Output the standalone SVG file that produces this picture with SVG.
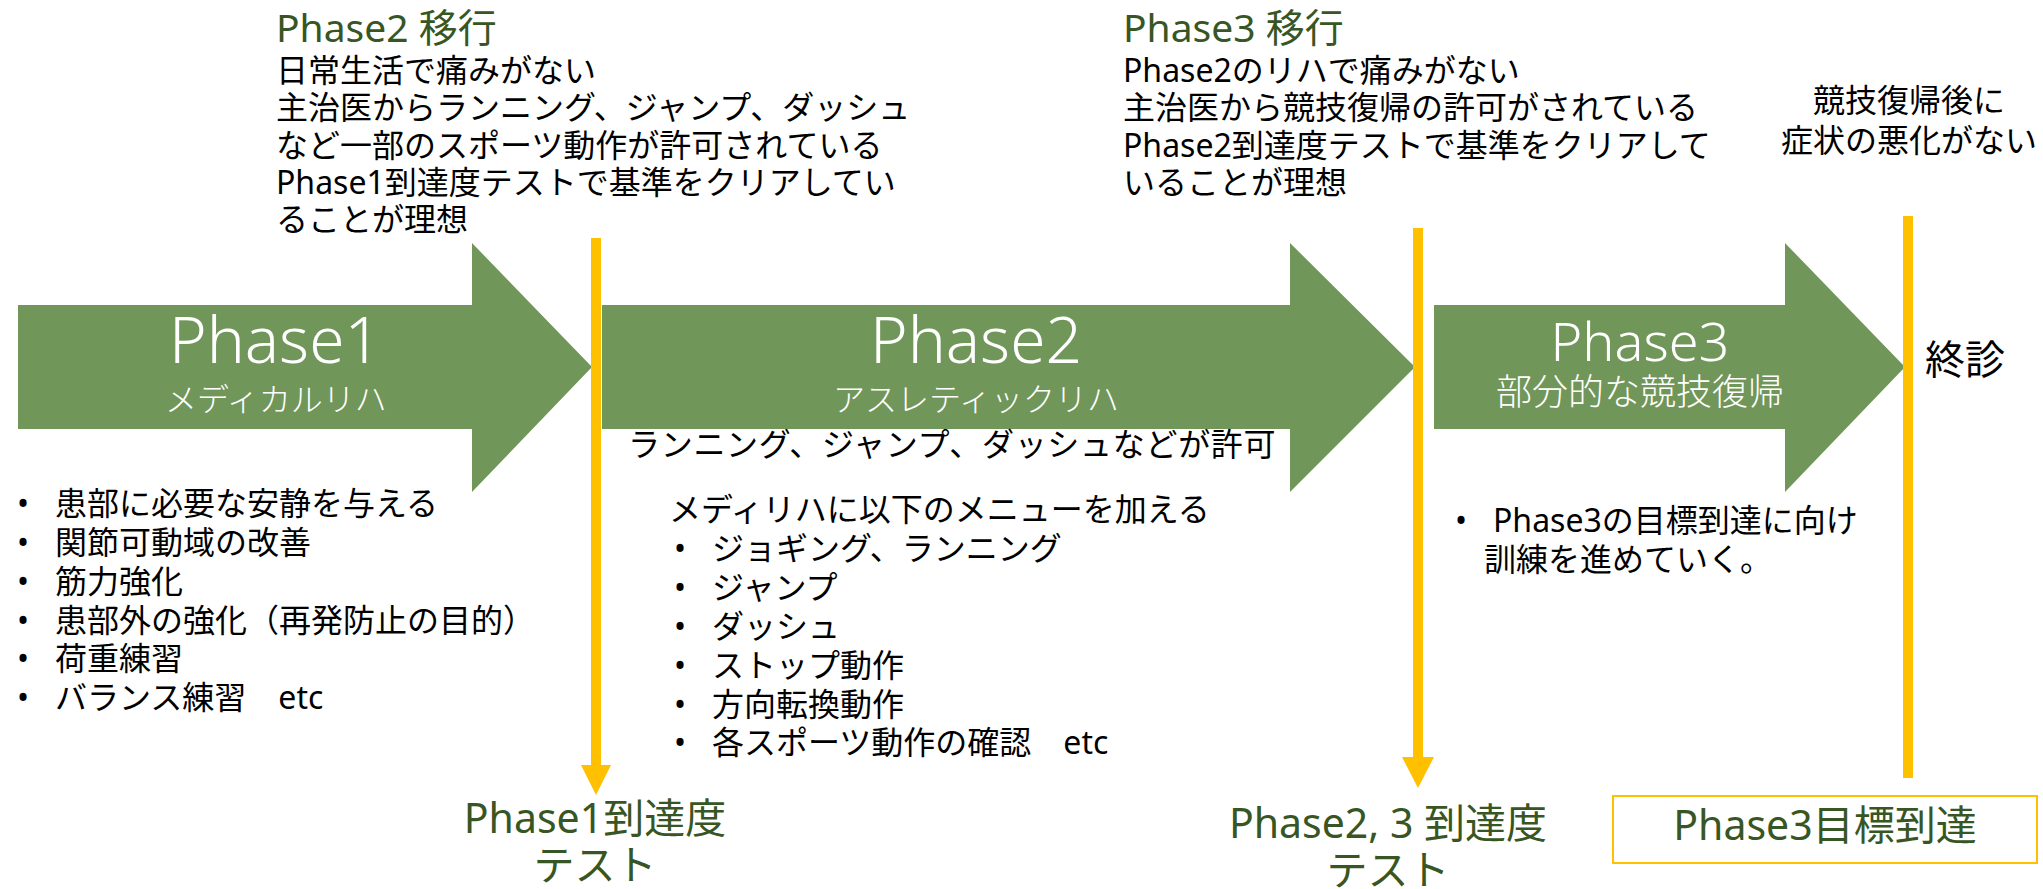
<svg xmlns="http://www.w3.org/2000/svg" width="2043" height="889" viewBox="0 0 2043 889">
<style>
text{font-family:'Noto Sans','Noto Sans CJK JP',sans-serif;font-size:32px;fill:#000}
.w{fill:#fff;font-weight:300}
.h{font-size:39px;fill:#375623}
.big{font-size:64px}
.m{text-anchor:middle}
.lbl{font-size:41px;fill:#375623;text-anchor:middle}
.arrow{fill:#71965A}
.yl{stroke:#FFC000;stroke-width:10;fill:none}
.yh{fill:#FFC000}
</style>
<rect width="2043" height="889" fill="#fff"/>
<g id="phase1">
<polygon class="arrow" points="18,305 472,305 472,243 592,367 472,492 472,429 18,429"/>
<text class="w m"><tspan class="big" x="275" y="363">Phase1</tspan><tspan x="276" y="411">メディカルリハ</tspan></text>
</g>
<g id="phase2">
<polygon class="arrow" points="602,305 1290,305 1290,243 1415,367 1290,492 1290,429 602,429"/>
<text class="w m"><tspan class="big" x="976" y="363">Phase2</tspan><tspan x="976" y="411">アスレティックリハ</tspan></text>
</g>
<g id="phase3">
<polygon class="arrow" points="1434,305 1785,305 1785,243 1905,367 1785,492 1785,429 1434,429"/>
<text class="w m"><tspan x="1640" y="361" style="font-size:54px">Phase3</tspan><tspan x="1640" y="405" style="font-size:36px">部分的な競技復帰</tspan></text>
</g>
<g id="connectors">
<line class="yl" x1="596" y1="238" x2="596" y2="768"/>
<polygon class="yh" points="581,765 611,765 596,795"/>
<line class="yl" x1="1418" y1="228" x2="1418" y2="760"/>
<polygon class="yh" points="1402,757 1434,757 1418,788"/>
<line class="yl" x1="1908" y1="216" x2="1908" y2="778"/>
</g>
<g id="phase2-transition">
<text class="h" x="276" y="42">Phase2 移行</text>
<text><tspan x="276" y="82">日常生活で痛みがない</tspan><tspan x="276" y="119">主治医からランニング、ジャンプ、ダッシュ</tspan><tspan x="276" y="157">など一部のスポーツ動作が許可されている</tspan><tspan x="276" y="194">Phase1到達度テストで基準をクリアしてい</tspan><tspan x="276" y="231">ることが理想</tspan></text>
</g>
<g id="phase3-transition">
<text class="h" x="1123" y="42">Phase3 移行</text>
<text><tspan x="1123" y="82">Phase2のリハで痛みがない</tspan><tspan x="1123" y="119">主治医から競技復帰の許可がされている</tspan><tspan x="1123" y="157">Phase2到達度テストで基準をクリアして</tspan><tspan x="1123" y="194">いることが理想</tspan></text>
</g>
<g id="finish-condition">
<text class="m"><tspan x="1909" y="112">競技復帰後に</tspan><tspan x="1909" y="152">症状の悪化がない</tspan></text>
</g>
<g id="final">
<text x="1925" y="374" style="font-size:40px">終診</text>
</g>
<g id="phase1-menu">
<text><tspan x="17" y="515">•</tspan><tspan x="55" y="515">患部に必要な安静を与える</tspan><tspan x="17" y="554">•</tspan><tspan x="55" y="554">関節可動域の改善</tspan><tspan x="17" y="593">•</tspan><tspan x="55" y="593">筋力強化</tspan><tspan x="17" y="632">•</tspan><tspan x="55" y="632">患部外の強化（再発防止の目的）</tspan><tspan x="17" y="670">•</tspan><tspan x="55" y="670">荷重練習</tspan><tspan x="17" y="709">•</tspan><tspan x="55" y="709">バランス練習　etc</tspan></text>
</g>
<g id="phase2-menu">
<text x="628" y="456" style="letter-spacing:0.7px">ランニング、ジャンプ、ダッシュなどが許可</text>
<text><tspan x="669" y="521">メディリハに以下のメニューを加える</tspan><tspan x="674" y="560">•</tspan><tspan x="712" y="560">ジョギング、ランニング</tspan><tspan x="674" y="599">•</tspan><tspan x="712" y="599">ジャンプ</tspan><tspan x="674" y="638">•</tspan><tspan x="712" y="638">ダッシュ</tspan><tspan x="674" y="677">•</tspan><tspan x="712" y="677">ストップ動作</tspan><tspan x="674" y="716">•</tspan><tspan x="712" y="716">方向転換動作</tspan><tspan x="674" y="754">•</tspan><tspan x="712" y="754">各スポーツ動作の確認　etc</tspan></text>
</g>
<g id="phase3-menu">
<text><tspan x="1455" y="532">•</tspan><tspan x="1493" y="532">Phase3の目標到達に向け</tspan><tspan x="1484" y="571">訓練を進めていく。</tspan></text>
</g>
<g id="test1">
<text class="lbl"><tspan x="595" y="833">Phase1到達度</tspan><tspan x="595" y="880">テスト</tspan></text>
</g>
<g id="test23">
<text class="lbl"><tspan x="1388" y="838">Phase2, 3 到達度</tspan><tspan x="1388" y="885">テスト</tspan></text>
</g>
<g id="goal3">
<rect x="1613" y="796" width="424" height="67" fill="#fff" stroke="#FFC000" stroke-width="2"/>
<text class="lbl" x="1825" y="840">Phase3目標到達</text>
</g>
</svg>
